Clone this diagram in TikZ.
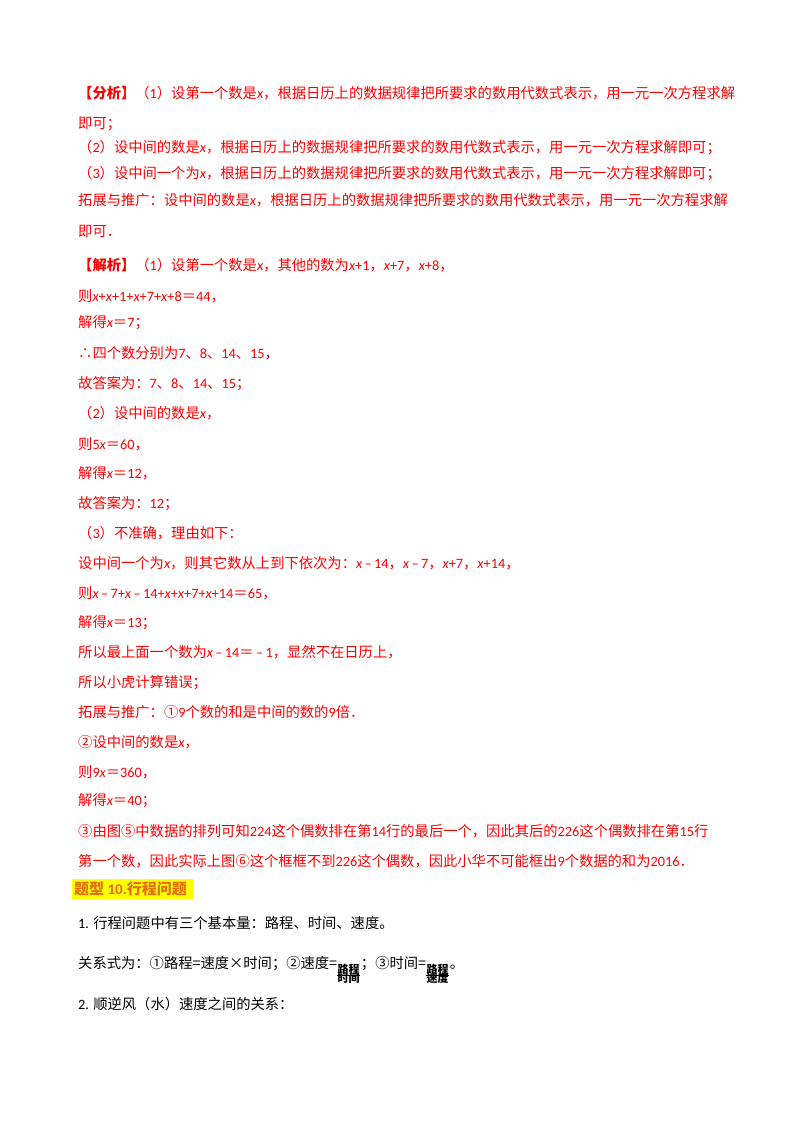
\documentclass[tikz,border=0pt]{standalone}
\usepackage{fontspec}
\setmainfont{Noto Sans CJK SC}
\newfontfamily\lat{Carlito}
\newcommand{\X}{{\lat\itshape x}}
\newcommand{\N}[1]{{\lat #1}}
\newcommand{\M}{{\lat\,–\,}}
\definecolor{rd}{HTML}{FF0000}
\definecolor{hl}{HTML}{FFFF00}
\definecolor{og}{HTML}{E46C0A}
\begin{document}
\begin{tikzpicture}[x=1pt,y=-1pt,
  t/.style={anchor=base west,inner sep=0,font=\fontsize{14.3}{16}\selectfont},
  r/.style={t,text=rd},
  fr/.style={inner sep=0,font=\fontsize{11}{12}\selectfont\bfseries}]
\useasboundingbox[fill=white] (0,0) rectangle (800,1132);
\node[r] (l1) at (78,98) {\textbf{【分析】}（\N{1}）设第一个数是\X，根据日历上的数据规律把所要求的数用代数式表示，用一元一次方程求解};
\node[r] (l2) at (78,128) {即可；};
\node[r] (l3) at (78,152) {（\N{2}）设中间的数是\X，根据日历上的数据规律把所要求的数用代数式表示，用一元一次方程求解即可；};
\node[r] (l4) at (78,178) {（\N{3}）设中间一个为\X，根据日历上的数据规律把所要求的数用代数式表示，用一元一次方程求解即可；};
\node[r] (l5) at (78,205) {拓展与推广：设中间的数是\X，根据日历上的数据规律把所要求的数用代数式表示，用一元一次方程求解};
\node[r] (l6) at (78,236) {即可．};
\node[r] (l7) at (78,270) {\textbf{【解析】}（\N{1}）设第一个数是\X，其他的数为\X\N{+1}，\X\N{+7}，\X\N{+8}，};
\node[r] (l8) at (78,301) {则\X\N{+}\X\N{+1+}\X\N{+7+}\X\N{+8}＝\N{44}，};
\node[r] (l9) at (78,327) {解得\X＝\N{7}；};
\node[r] (l10) at (78,358) {∴四个数分别为\N{7}、\N{8}、\N{14}、\N{15}，};
\node[r] (l11) at (78,388) {故答案为：\N{7}、\N{8}、\N{14}、\N{15}；};
\node[r] (l12) at (78,418) {（\N{2}）设中间的数是\X，};
\node[r] (l13) at (78,449) {则\N{5}\X＝\N{60}，};
\node[r] (l14) at (78,478) {解得\X＝\N{12}，};
\node[r] (l15) at (78,508) {故答案为：\N{12}；};
\node[r] (l16) at (78,538) {（\N{3}）不准确，理由如下：};
\node[r] (l17) at (78,568) {设中间一个为\X，则其它数从上到下依次为：\X\M\N{14}，\X\M\N{7}，\X\N{+7}，\X\N{+14}，};
\node[r] (l18) at (78,598) {则\X\M\N{7+}\X\M\N{14+}\X\N{+}\X\N{+7+}\X\N{+14}＝\N{65}，};
\node[r] (l19) at (78,627) {解得\X＝\N{13}；};
\node[r] (l20) at (78,657) {所以最上面一个数为\X\M\N{14}＝\M\N{1}，显然不在日历上，};
\node[r] (l21) at (78,687) {所以小虎计算错误；};
\node[r] (l22) at (78,717) {拓展与推广：①\N{9}个数的和是中间的数的\N{9}倍．};
\node[r] (l23) at (78,747) {②设中间的数是\X，};
\node[r] (l24) at (78,777) {则\N{9}\X＝\N{360}，};
\node[r] (l25) at (78,805) {解得\X＝\N{40}；};
\node[r] (l26) at (78,836) {③由图⑤中数据的排列可知\N{224}这个偶数排在第\N{14}行的最后一个，因此其后的\N{226}这个偶数排在第\N{15}行};
\node[r] (l27) at (78,866) {第一个数，因此实际上图⑥这个框框不到\N{226}这个偶数，因此小华不可能框出\N{9}个数据的和为\N{2016}．};
\fill[hl] (72,879) rectangle (193,899);
\node[t,text=og,font=\fontsize{15}{16}\selectfont\bfseries] (h) at (74,894) {题型\N{\bfseries\ 10.}行程问题};
\node[t] (b1) at (78,928) {\N{1.} 行程问题中有三个基本量：路程、时间、速度。};
\node[t] (b2) at (78,968) {关系式为：①路程=速度×时间；②速度=};
\node[fr,anchor=south west] (f1n) at ([yshift=-7pt]b2.base east) {路程};
\node[fr,anchor=north west] (f1d) at ([yshift=-5pt]b2.base east) {时间};
\draw[line width=0.8pt] (f1n.south west) -- (f1n.south east);
\node[t,anchor=base west] (b3) at ([xshift=1pt]b2.base east -| f1n.east) {；③时间=};
\node[fr,anchor=south west] (f2n) at ([yshift=-7pt]b3.base east) {路程};
\node[fr,anchor=north west] (f2d) at ([yshift=-5pt]b3.base east) {速度};
\draw[line width=0.8pt] (f2n.south west) -- (f2n.south east);
\node[t,anchor=base west] (b4) at ([xshift=1pt]b3.base east -| f2n.east) {。};
\node[t] (b5) at (78,1009) {\N{2.} 顺逆风（水）速度之间的关系：};
\end{tikzpicture}
\end{document}
